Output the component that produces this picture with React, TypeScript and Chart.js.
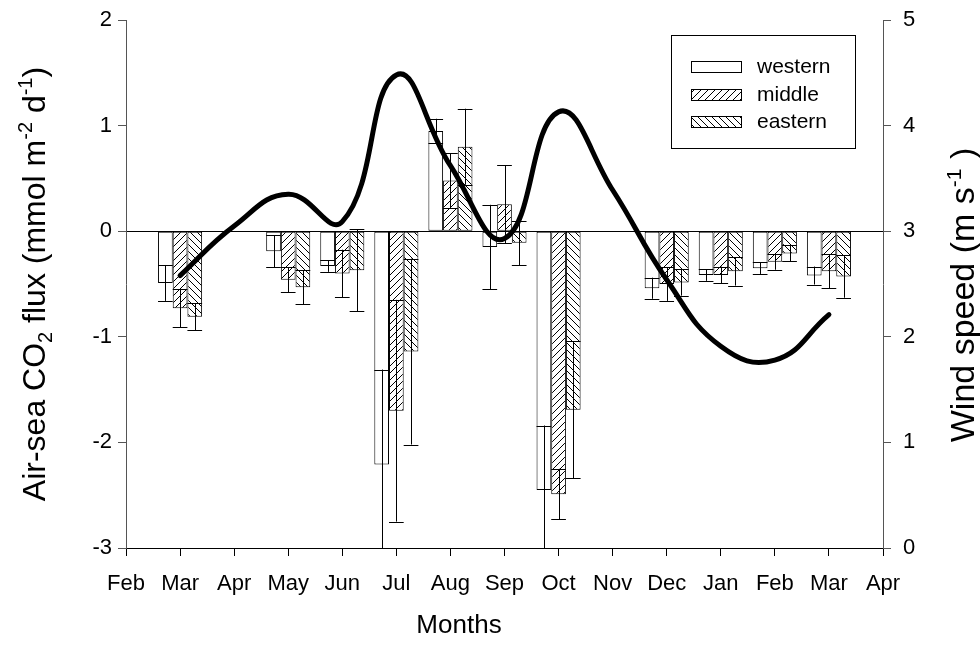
import React, { useEffect, useRef } from 'react';
import { Chart, registerables } from 'chart.js';

Chart.register(...registerables);

// ---------------- data ----------------
const months = ['Feb', 'Mar', 'Apr', 'May', 'Jun', 'Jul', 'Aug', 'Sep', 'Oct', 'Nov', 'Dec', 'Jan', 'Feb', 'Mar', 'Apr'];
const seriesNames = ['western', 'middle', 'eastern'];

const westernFlux = [null, -0.49, null, -0.19, -0.33, -2.21, 0.95, -0.15, -2.45, null, -0.54, -0.415, -0.35, -0.42, null];
const westernErr = [null, 0.17, null, 0.15, 0.055, 0.9, 0.115, 0.4, 0.61, null, 0.1, 0.055, 0.055, 0.085, null];
const middleFlux = [null, -0.73, null, -0.46, -0.4, -1.7, 0.48, 0.255, -2.49, null, -0.5, -0.415, -0.29, -0.38, null];
const middleErr = [null, 0.18, null, 0.12, 0.225, 1.05, 0.26, 0.37, 0.24, null, 0.16, 0.08, 0.075, 0.16, null];
const easternFlux = [null, -0.81, null, -0.53, -0.37, -1.14, 0.8, -0.11, -1.69, null, -0.485, -0.38, -0.21, -0.43, null];
const easternErr = [null, 0.13, null, 0.16, 0.39, 0.88, 0.36, 0.21, 0.65, null, 0.125, 0.135, 0.075, 0.2, null];

const windSpeed = [null, 2.58, 3.05, 3.35, 3.09, 4.48, 3.62, 2.93, 4.13, 3.39, 2.54, 1.91, 1.78, 2.21, null];

const fluxRange = [-3, 2];
const windRange = [0, 5];

const xTitle = 'Months';
const leftTitle = [
  { t: 'Air-sea CO' }, { t: '2', sub: true }, { t: ' flux (mmol m' }, { t: '-2', sup: true },
  { t: ' d' }, { t: '-1', sup: true }, { t: ')' },
];
const rightTitle = [{ t: 'Wind speed (m s' }, { t: '-1', sup: true }, { t: ' )' }];

// ---------------- style ----------------
const FONT = '"Liberation Sans", Arial, Helvetica, sans-serif';
const W = 980;
const H = 659;

function makeHatch(ctx: CanvasRenderingContext2D, dir: 'fwd' | 'back') {
  const s = 7;
  const c = document.createElement('canvas');
  c.width = s;
  c.height = s;
  const g = c.getContext('2d')!;
  g.fillStyle = '#fff';
  g.fillRect(0, 0, s, s);
  g.strokeStyle = '#000';
  g.lineWidth = 1;
  g.beginPath();
  if (dir === 'fwd') {
    g.moveTo(-1, s + 1); g.lineTo(s + 1, -1);
    g.moveTo(-1, 1); g.lineTo(1, -1);
    g.moveTo(s - 1, s + 1); g.lineTo(s + 1, s - 1);
  } else {
    g.moveTo(-1, -1); g.lineTo(s + 1, s + 1);
    g.moveTo(s - 1, -1); g.lineTo(s + 1, 1);
    g.moveTo(-1, s - 1); g.lineTo(1, s + 1);
  }
  g.stroke();
  return ctx.createPattern(c, 'repeat');
}

function drawRich(ctx: CanvasRenderingContext2D, segs: any[], cx: number, cy: number, size: number) {
  ctx.save();
  ctx.translate(cx, cy);
  ctx.rotate(-Math.PI / 2);
  const small = Math.round(size * 0.62);
  const fontFor = (s: any) => `${s.sub || s.sup ? small : size}px ${FONT}`;
  const widths = segs.map((s) => { ctx.font = fontFor(s); return ctx.measureText(s.t).width; });
  const total = widths.reduce((a, b) => a + b, 0);
  let x = -total / 2;
  ctx.fillStyle = '#000';
  ctx.textAlign = 'left';
  ctx.textBaseline = 'alphabetic';
  const base = size * 0.36;
  segs.forEach((s, i) => {
    ctx.font = fontFor(s);
    const dy = s.sub ? size * 0.22 : s.sup ? -size * 0.4 : 0;
    ctx.fillText(s.t, x, base + dy);
    x += widths[i];
  });
  ctx.restore();
}

const errorBarPlugin = {
  id: 'errorBars',
  afterDatasetDraw(chart: any, args: any) {
    const ds = chart.data.datasets[args.index];
    if (!ds.errors) return;
    const meta = args.meta;
    const y = chart.scales.y;
    const { ctx, chartArea } = chart;
    ctx.save();
    ctx.beginPath();
    ctx.rect(chartArea.left, chartArea.top, chartArea.right - chartArea.left, chartArea.bottom - chartArea.top);
    ctx.clip();
    ctx.strokeStyle = '#000';
    ctx.lineWidth = 1;
    meta.data.forEach((bar: any, i: number) => {
      const v = ds.data[i];
      const e = ds.errors[i];
      if (v == null || e == null) return;
      const { x, width } = bar.getProps(['x', 'width'], true);
      const yTop = y.getPixelForValue(v + e);
      const yBot = y.getPixelForValue(v - e);
      const half = width / 2;
      const cx = Math.round(x) + 0.5;
      ctx.beginPath();
      ctx.moveTo(cx, yTop);
      ctx.lineTo(cx, yBot);
      [yTop, yBot].forEach((yy) => {
        const py = Math.round(yy) + 0.5;
        ctx.moveTo(x - half, py);
        ctx.lineTo(x + half, py);
      });
      ctx.stroke();
    });
    ctx.restore();
  },
};

const decorPlugin = {
  id: 'decor',
  afterDraw(chart: any) {
    const { ctx, chartArea } = chart;
    // legend box
    ctx.save();
    ctx.strokeStyle = '#000';
    ctx.lineWidth = 1;
    ctx.strokeRect(671.5, 35.5, 184, 113);
    const bars = chart.data.datasets.filter((d: any) => d.type === 'bar');
    bars.forEach((d: any, i: number) => {
      const y = Math.round(61 + i * 27.7);
      ctx.fillStyle = d.backgroundColor;
      ctx.fillRect(691, y, 51, 11);
      ctx.strokeStyle = '#000';
      ctx.strokeRect(691.5, y + 0.5, 50, 11);
      ctx.fillStyle = '#000';
      ctx.font = `21px ${FONT}`;
      ctx.textAlign = 'left';
      ctx.textBaseline = 'middle';
      ctx.fillText(d.label, 757, y + 6);
    });
    // x title
    ctx.font = `26px ${FONT}`;
    ctx.textAlign = 'center';
    ctx.textBaseline = 'middle';
    ctx.fillStyle = '#000';
    ctx.fillText(xTitle, 459, 626);
    ctx.restore();
    const cy = (chartArea.top + chartArea.bottom) / 2;
    drawRich(ctx, leftTitle, 33, cy, 32);
    drawRich(ctx, rightTitle, 962, cy + 11, 34);
  },
};

export default function App() {
  const ref = useRef<HTMLCanvasElement | null>(null);

  useEffect(() => {
    const canvas = ref.current!;
    const ctx = canvas.getContext('2d')!;
    const fwd = makeHatch(ctx, 'fwd');
    const back = makeHatch(ctx, 'back');

    const barCommon = {
      type: 'bar' as const,
      yAxisID: 'y',
      borderColor: '#000',
      borderWidth: 1,
      borderSkipped: false,
      barPercentage: 1,
      categoryPercentage: 0.815,
      order: 1,
    };

    const chart = new Chart(ctx, {
      type: 'bar',
      data: {
        labels: months,
        datasets: [
          { ...barCommon, label: seriesNames[0], data: westernFlux, errors: westernErr, backgroundColor: '#fff' } as any,
          { ...barCommon, label: seriesNames[1], data: middleFlux, errors: middleErr, backgroundColor: fwd } as any,
          { ...barCommon, label: seriesNames[2], data: easternFlux, errors: easternErr, backgroundColor: back } as any,
          {
            type: 'line',
            label: 'Wind speed',
            data: windSpeed,
            yAxisID: 'y1',
            borderColor: '#000',
            borderWidth: 5,
            tension: 0.45,
            pointRadius: 0,
            borderCapStyle: 'round',
            borderJoinStyle: 'round',
            fill: false,
            spanGaps: false,
            order: 0,
          } as any,
        ],
      },
      options: {
        responsive: false,
        animation: false,
        events: [],
        layout: { padding: { top: 20, left: 0, right: 0, bottom: 0 } },
        plugins: { legend: { display: false }, tooltip: { enabled: false } },
        scales: {
          x: {
            type: 'category',
            offset: false,
            border: { color: '#000', width: 1 },
            grid: { drawOnChartArea: false, tickLength: 8, tickColor: '#000', offset: false },
            ticks: {
              autoSkip: false,
              maxRotation: 0,
              minRotation: 0,
              color: '#000',
              padding: 15,
              font: { family: FONT, size: 22 },
            },
            title: { display: false },
            afterFit: (s: any) => { s.height = H - 548; s.paddingLeft = 0; s.paddingRight = 0; },
          },
          y: {
            type: 'linear',
            position: 'left',
            min: fluxRange[0],
            max: fluxRange[1],
            border: { color: '#555', width: 1 },
            grid: {
              drawOnChartArea: true,
              color: (c: any) => (c.tick && c.tick.value === 0 ? '#000' : 'rgba(0,0,0,0)'),
              tickColor: '#555',
              tickLength: 8,
            },
            ticks: {
              stepSize: 1,
              color: '#000',
              padding: 6,
              font: { family: FONT, size: 22 },
              callback: (v: any) => String(v),
            },
            afterFit: (s: any) => { s.width = 126; s.paddingTop = 0; s.paddingBottom = 0; },
          },
          y1: {
            type: 'linear',
            position: 'right',
            min: windRange[0],
            max: windRange[1],
            border: { color: '#555', width: 1 },
            grid: { drawOnChartArea: false, tickColor: '#555', tickLength: 8 },
            ticks: {
              stepSize: 1,
              color: '#000',
              padding: 12,
              font: { family: FONT, size: 22 },
              callback: (v: any) => String(v),
            },
            afterFit: (s: any) => { s.width = W - 883; s.paddingTop = 0; s.paddingBottom = 0; },
          },
        },
      } as any,
      plugins: [errorBarPlugin, decorPlugin],
    });
    return () => chart.destroy();
  }, []);

  return (
    <div style={{ position: 'absolute', left: 0, top: 0, width: W, height: H, background: '#fff' }}>
      <canvas ref={ref} width={W} height={H} style={{ display: 'block' }} />
    </div>
  );
}
